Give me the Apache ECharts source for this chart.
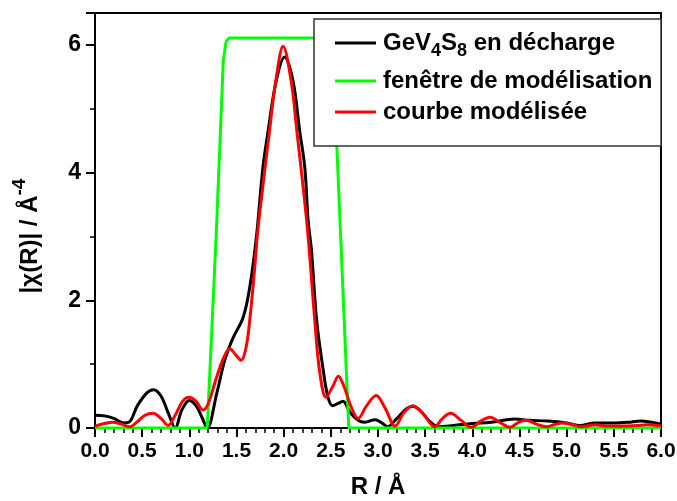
<!DOCTYPE html>
<html>
<head>
<meta charset="utf-8">
<script src="https://cdn.jsdelivr.net/npm/echarts@6/dist/echarts.min.js"></script>
<style>
html,body{margin:0;padding:0;background:#fff;}
#c{width:677px;height:501px;}
</style>
</head>
<body>
<div id="c"></div>
<script>
// Experimental EXAFS magnitude |chi(R)|
const blackR = [0.00,0.10,0.20,0.30,0.36,0.45,0.55,0.62,0.70,0.78,0.85,0.92,1.00,1.07,1.13,1.19,1.29,1.375,1.46,1.57,1.64,1.71,1.78,1.835,1.92,2.01,2.10,2.17,2.224,2.26,2.295,2.35,2.42,2.47,2.52,2.57,2.63,2.70,2.79,2.86,2.97,3.04,3.10,3.20,3.30,3.37,3.45,3.55,3.64,3.80,4.00,4.20,4.45,4.60,4.80,5.00,5.14,5.30,5.50,5.65,5.78,5.90,6.00];
const blackV = [0.20,0.19,0.15,0.08,0.09,0.35,0.55,0.60,0.50,0.22,0.00,0.28,0.43,0.35,0.18,0.00,0.54,1.06,1.40,1.73,2.20,2.98,4.08,4.65,5.43,5.81,5.43,4.65,4.08,3.24,2.78,1.68,0.90,0.48,0.35,0.38,0.42,0.25,0.12,0.09,0.13,0.08,0.02,0.15,0.30,0.34,0.27,0.10,0.02,0.04,0.07,0.09,0.14,0.12,0.11,0.08,0.04,0.08,0.08,0.09,0.11,0.09,0.06];
// Fitted model curve
const redR = [0.00,0.10,0.19,0.28,0.37,0.45,0.53,0.615,0.70,0.775,0.85,0.93,1.00,1.07,1.145,1.20,1.29,1.37,1.43,1.49,1.55,1.60,1.64,1.69,1.73,1.85,1.916,1.994,2.08,2.14,2.25,2.33,2.38,2.45,2.52,2.58,2.64,2.71,2.79,2.88,2.98,3.08,3.18,3.28,3.37,3.48,3.60,3.69,3.77,3.88,3.99,4.10,4.19,4.30,4.40,4.49,4.57,4.68,4.79,4.88,4.96,5.06,5.15,5.30,5.45,5.60,5.75,5.85,6.00];
const redV = [0.03,0.07,0.09,0.06,0.02,0.10,0.20,0.23,0.15,0.04,0.20,0.42,0.48,0.42,0.28,0.38,0.80,1.12,1.24,1.15,1.06,1.25,1.68,2.46,3.15,4.65,5.43,5.98,5.43,4.65,3.15,1.68,0.90,0.48,0.65,0.81,0.65,0.35,0.15,0.35,0.51,0.30,0.03,0.25,0.35,0.22,0.02,0.16,0.23,0.12,0.01,0.12,0.17,0.08,0.01,0.09,0.12,0.06,0.02,0.06,0.08,0.05,0.02,0.05,0.03,0.03,0.04,0.05,0.03];
// Modelling window
const greenR = [0.00,1.19,1.287,1.36,1.39,1.42,2.50,2.52,2.69,6.00];
const greenV = [0,0,3.09,5.75,6.05,6.11,6.11,5.95,0,0];
const xTicks = {min:0, max:6, interval:0.5};
const yTicks = {min:0, max:6.5, interval:2};

const zip = (a,b) => a.map((v,i)=>[v,b[i]]);
const nameBlack = 'GeV4S8 en décharge';
const nameGreen = 'fenêtre de modélisation';
const nameRed = 'courbe modélisée';
const FONT = '"Liberation Sans", Arial, sans-serif';

const chart = echarts.init(document.getElementById('c'), null, {renderer:'canvas'});
const legendBase = {
  orient:'vertical', left:335, padding:0, icon:'rect', itemWidth:41, itemHeight:3,
  z:60, selectedMode:false,
  textStyle:{fontFamily:FONT, fontWeight:'bold', fontSize:24, color:'#000', lineHeight:24, padding:[0,0,0,2],
    rich:{
      m:{fontFamily:FONT, fontWeight:'bold', fontSize:24, color:'#000', lineHeight:24},
      s:{fontFamily:FONT, fontWeight:'bold', fontSize:18, color:'#000', lineHeight:18, padding:[16,0,0,0]}
    }}
};
chart.setOption({
  animation:false,
  backgroundColor:'#fff',
  grid:{left:95, right:16, top:13, bottom:73, containLabel:false, outerBoundsMode:'none',
    show:true, borderColor:'#000', borderWidth:2, backgroundColor:'transparent'},
  xAxis:{type:'value', min:xTicks.min, max:xTicks.max, interval:xTicks.interval,
    name:'R / Å', nameLocation:'middle', nameGap:47,
    nameTextStyle:{fontFamily:FONT, fontWeight:'bold', fontSize:24, color:'#000'},
    axisLine:{lineStyle:{color:'#000', width:2}},
    axisTick:{inside:false, length:9, lineStyle:{color:'#000', width:2}},
    minorTick:{show:true, splitNumber:5, length:5, lineStyle:{color:'#000', width:1.5}},
    splitLine:{show:false},
    axisLabel:{margin:13, fontFamily:FONT, fontWeight:'bold', fontSize:21, color:'#000', formatter:v=>v.toFixed(1)}
  },
  yAxis:{type:'value', min:yTicks.min, max:yTicks.max, interval:yTicks.interval,
    axisLine:{show:true, lineStyle:{color:'#000', width:2}},
    axisTick:{show:true, inside:false, length:9, lineStyle:{color:'#000', width:2}},
    minorTick:{show:true, splitNumber:2, length:5, lineStyle:{color:'#000', width:1.5}},
    splitLine:{show:false},
    axisLabel:{margin:14, fontFamily:FONT, fontWeight:'bold', fontSize:23, color:'#000', showMaxLabel:false}
  },
  legend:[
    Object.assign({}, legendBase, {top:26, data:[nameBlack],
      formatter:()=>'{m|GeV}{s|4}{m|S}{s|8}{m| en décharge}'}),
    Object.assign({}, legendBase, {top:69, data:[nameGreen]}),
    Object.assign({}, legendBase, {top:100, data:[nameRed]})
  ],
  graphic:[
    {type:'rect', z:50, shape:{x:314, y:19, width:347, height:127},
      style:{fill:'#fff', stroke:'#333', lineWidth:1.5}},
    {type:'text', z:50, x:30, y:236, rotation:Math.PI/2,
      style:{text:'{m|\u007Cχ(R)\u007C / Å}{p|-4}', align:'center', verticalAlign:'middle',
        rich:{
          m:{fontFamily:FONT, fontWeight:'bold', fontSize:24, fill:'#000', lineHeight:24},
          p:{fontFamily:FONT, fontWeight:'bold', fontSize:19, fill:'#000', lineHeight:19, padding:[0,0,20,0]}
        }}}
  ],
  series:[
    {name:nameBlack, type:'line', data:zip(blackR,blackV), showSymbol:false, symbol:'none', smooth:0.35,
      color:'#000', lineStyle:{color:'#000', width:3}, z:2},
    {name:nameGreen, type:'line', data:zip(greenR,greenV), showSymbol:false, symbol:'none', smooth:false,
      color:'#00ff00', lineStyle:{color:'#00ff00', width:3}, z:3},
    {name:nameRed, type:'line', data:zip(redR,redV), showSymbol:false, symbol:'none', smooth:0.35,
      color:'#ff0000', lineStyle:{color:'#ff0000', width:3}, z:4}
  ]
});
</script>
</body>
</html>
